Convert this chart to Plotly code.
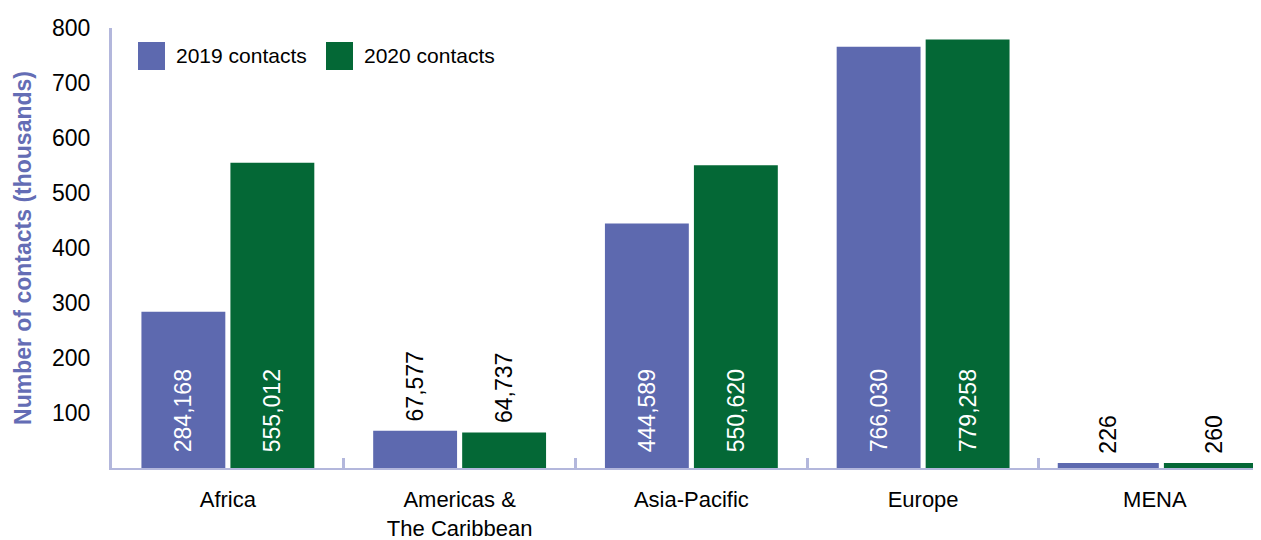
import plotly.graph_objects as go
import numpy as np

regions = ["Africa", "Americas &<br>The Caribbean", "Asia-Pacific", "Europe", "MENA"]
contacts_2019 = [284168, 67577, 444589, 766030, 226]
contacts_2020 = [555012, 64737, 550620, 779258, 260]
series_names = ["2019 contacts", "2020 contacts"]
y_ticks = [100, 200, 300, 400, 500, 600, 700, 800]

colors = ["#5d69af", "#046836"]
axis_color = "#b3b7dc"
FONT = "Liberation Sans, Arial, sans-serif"

# bar geometry (category units); the last group is drawn wider, as in the original
bar_widths = [0.362, 0.362, 0.362, 0.362, 0.436]
bar_offsets = {
    "2019 contacts": [-0.373, -0.373, -0.373, -0.373, -0.419],
    "2020 contacts": [0.011, 0.011, 0.011, 0.011, 0.039],
}

# page offset (body margin) compensation: figure sits at (8, 8) in the window
OFF = 8
PL, PT, PR, PB = 112, 28, 1261, 468  # plot area in window coordinates

def heights(vals):
    # thousands, with a minimum visible bar height like the original
    return np.maximum(np.array(vals) / 1000.0, 9)

def is_inside(v):
    return v / 1000.0 > 150

fig = go.Figure()
for name, vals, col in zip(series_names, [contacts_2019, contacts_2020], colors):
    fig.add_trace(go.Bar(
        x=regions, y=heights(vals), name=name,
        width=bar_widths, offset=bar_offsets[name],
        marker=dict(color=col, line=dict(width=0)),
        text=[("\u00a0\u00a0" if is_inside(v) else "\u00a0") + f"{v:,}" for v in vals],
        textposition=["inside" if is_inside(v) else "outside" for v in vals],
        insidetextanchor="start",
        textangle=-90,
        textfont=dict(family=FONT, size=23,
                      color=["white" if is_inside(v) else "black" for v in vals]),
        cliponaxis=True,
        showlegend=False,
    ))

fig.update_layout(
    width=1261 - OFF, height=540 - OFF,
    margin=dict(l=PL - OFF, r=0, t=PT - OFF, b=540 - PB),
    paper_bgcolor="white", plot_bgcolor="white",
    barmode="overlay",
    font=dict(family=FONT, size=23, color="black"),
    xaxis=dict(
        range=[-0.5, 4.458], automargin=False,
        showline=True, linecolor=axis_color, linewidth=2,
        ticks="inside", tickson="boundaries", ticklen=10, tickwidth=3, tickcolor=axis_color,
        tickfont=dict(size=22, color="black"), ticklabelstandoff=11,
        showgrid=False,
    ),
    yaxis=dict(
        range=[0, 800], automargin=False,
        showline=True, linecolor=axis_color, linewidth=3,
        tickvals=y_ticks, ticks="", ticklabelstandoff=14,
        tickfont=dict(size=23, color="black"),
        showgrid=False, zeroline=False,
        title=dict(text="<b>Number of contacts (thousands)</b>",
                   font=dict(size=23, color="#646db5"), standoff=14),
    ),
)

# legend drawn as swatches + labels in paper coordinates
W, H = PR - PL, PB - PT
legend_x = [138, 326]
for name, col, lx in zip(series_names, colors, legend_x):
    fig.add_shape(type="rect", xref="paper", yref="paper",
                  x0=(lx - PL) / W, x1=(lx + 27 - PL) / W,
                  y0=(PB - 70) / H, y1=(PB - 42) / H,
                  fillcolor=col, line=dict(width=0))
    fig.add_annotation(xref="paper", yref="paper", x=(lx + 36 - PL) / W, y=(PB - 56) / H,
                       text=name, showarrow=False, xanchor="left", yanchor="middle",
                       font=dict(size=21, color="black"))

fig.write_html("out.html")
